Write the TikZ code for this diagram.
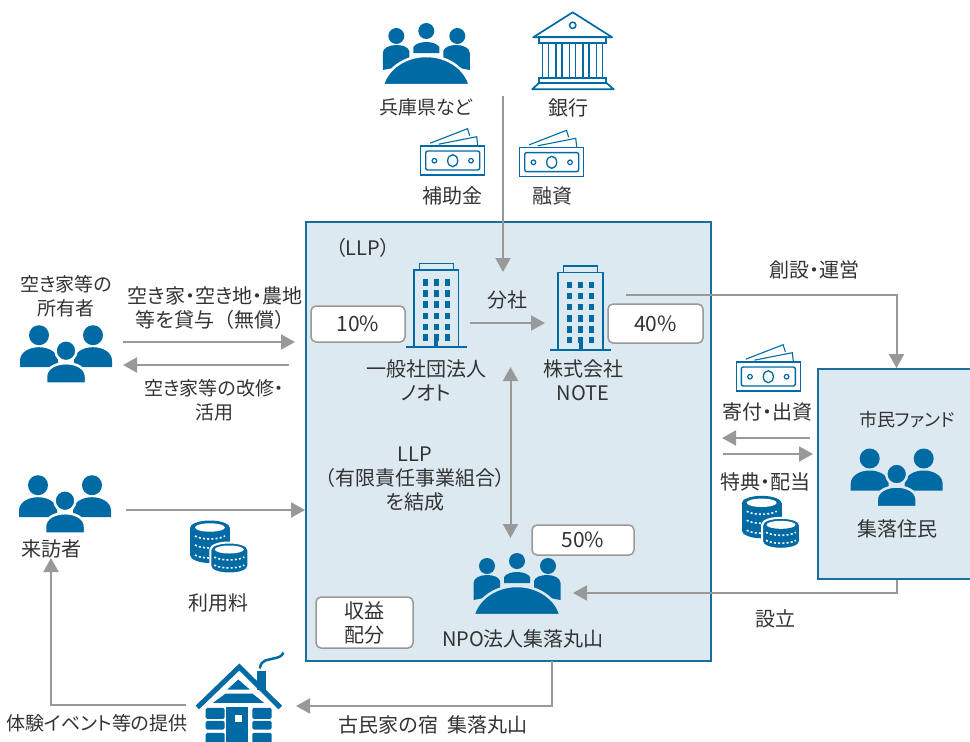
\documentclass[tikz,border=0pt]{standalone}
\usepackage{fontspec}
\setmainfont[RawFeature=+palt]{Noto Sans CJK JP}
\newfontfamily\fullwidth{Noto Sans CJK JP}
\usetikzlibrary{arrows.meta,positioning}

\definecolor{iconBlue}{HTML}{006AA5}
\definecolor{lineBlue}{HTML}{1A6E9E}
\definecolor{boxFill}{HTML}{DCE9F1}
\definecolor{flowGray}{HTML}{999999}
\definecolor{textDark}{HTML}{333333}

\newcommand{\coinDots}[2]{\draw[white,line width=1.6pt,dash pattern=on 2pt off 2.2pt] (#1-15,#2-3) .. controls (#1-8,#2+1) and (#1+8,#2+1) .. (#1+15,#2-3);}

\tikzset{
	pics/peopleIcon/.style={code={
		\fill[iconBlue] (-27,-15.5) circle [radius=10];
		\fill[iconBlue] (27,-15.5) circle [radius=10];
		\fill[iconBlue] (-46,16.5) -- (-46,10) .. controls (-46,1) and (-36,-3.5) .. (-27,-3.5) .. controls (-18,-3.5) and (-8,1) .. (-8,10) -- (-8,16.5) -- cycle;
		\fill[iconBlue] (46,16.5) -- (46,10) .. controls (46,1) and (36,-3.5) .. (27,-3.5) .. controls (18,-3.5) and (8,1) .. (8,10) -- (8,16.5) -- cycle;
		\draw[#1,line width=2.5pt,fill=iconBlue] (0,0) circle [radius=10.5];
		\draw[#1,line width=2.5pt,fill=iconBlue] (-20,33) -- (-20,26) .. controls (-20,17) and (-10,12.5) .. (0,12.5) .. controls (10,12.5) and (20,17) .. (20,26) -- (20,33) -- cycle;
	}},
	pics/tableIcon/.style={code={
		\fill[iconBlue] (-30,-49) circle [radius=8];
		\fill[iconBlue] (0,-54) circle [radius=8];
		\fill[iconBlue] (31,-49) circle [radius=8];
		\fill[iconBlue] (-43.5,-15) -- (-43.5,-32) .. controls (-43.5,-37) and (-37,-40) .. (-30,-40) .. controls (-24,-40) and (-18,-38) .. (-17,-34) -- (-17,-20) -- cycle;
		\fill[iconBlue] (43.5,-15) -- (43.5,-32) .. controls (43.5,-37) and (37,-40) .. (30,-40) .. controls (24,-40) and (18,-38) .. (17,-34) -- (17,-20) -- cycle;
		\fill[iconBlue] (-13,-32) -- (-13,-38) .. controls (-11,-41) and (-6,-43) .. (0,-43) .. controls (6,-43) and (11,-41) .. (13,-38) -- (13,-32) -- cycle;
		\draw[#1,line width=2.5pt,fill=iconBlue] (-43.5,0) .. controls (-39,-16) and (-22,-29) .. (0,-29) .. controls (22,-29) and (39,-16) .. (43.5,0) -- cycle;
	}},
	pics/bankIcon/.style={code={
		\draw[iconBlue,line width=1.7pt,line join=round] (0,-25) -- (-39.5,0) -- (39.5,0) -- cycle;
		\draw[iconBlue,line width=1.5pt] (0,-12) circle [radius=3.2];
		\draw[iconBlue,line width=1.7pt] (-33.5,0) rectangle (33.5,5.4);
		\foreach \colX in {-27,-13.5,0,13.5,27}
			\draw[iconBlue,line width=1.5pt] (\colX-3,5.4) rectangle (\colX+3,41);
		\draw[iconBlue,line width=1.7pt] (-33.5,41) rectangle (33.5,45.4);
		\draw[iconBlue,line width=1.7pt,line join=round] (-33.5,45.4) -- (-40.5,52) -- (41,52) -- (33.5,45.4);
	}},
	pics/moneyIcon/.style={code={
		\draw[iconBlue,line width=1.1pt] (-22.5,-17.5) -- (14.8,-32) -- (17,-25);
		\draw[iconBlue,line width=1.1pt] (-14,-16.5) -- (24,-24) -- (25,-15.5);
		\draw[iconBlue,line width=1.4pt,fill=white] (-32,-14.7) rectangle (32,14.3);
		\draw[iconBlue,line width=1.4pt,rounded corners=2pt] (-27,-9.7) rectangle (27,9.3);
		\draw[iconBlue,line width=1.3pt] (0,0) ellipse [x radius=5,y radius=6];
		\draw[iconBlue,line width=1.2pt] (-18.3,0) circle [radius=2.3];
		\draw[iconBlue,line width=1.2pt] (18.3,0) circle [radius=2.3];
	}},
	pics/coinsIcon/.style={code={
		\fill[iconBlue] (0,27) ellipse [x radius=20,y radius=8];
		\fill[iconBlue] (-20,0) rectangle (20,27);
		\fill[iconBlue] (0,0) ellipse [x radius=20,y radius=7.5];
		\fill[white] (0,-0.5) ellipse [x radius=15,y radius=4.2];
		\coinDots{0}{11}
		\coinDots{0}{20}
		\coinDots{0}{30}
		\draw[white,line width=2pt,fill=iconBlue] (0.3,22) -- (0.3,38) .. controls (0.3,48) and (38.3,48) .. (38.3,38) -- (38.3,22) .. controls (38.3,12) and (0.3,12) .. (0.3,22) -- cycle;
		\fill[white] (19.3,21.5) ellipse [x radius=14.5,y radius=4];
		\coinDots{19.3}{32}
		\coinDots{19.3}{40}
	}},
	pics/towerIcon/.style={code={
		\draw[iconBlue,line width=1.5pt] (-17,-84) rectangle (17,-77.3);
		\draw[iconBlue,line width=1.5pt] (-22.3,-77.3) rectangle (22.3,0);
		\draw[iconBlue,line width=1.7pt] (-30.3,0) -- (30.3,0);
		\foreach \rowY in {-65,-54,-43,-31.6,-20.6,-10}
			\foreach \colX in {-11,0,11}
				\fill[iconBlue] (\colX-2.5,\rowY-3.2) rectangle (\colX+2.5,\rowY+3.2);
		\fill[iconBlue] (-2,-12) rectangle (2,0);
	}},
	pics/houseIcon/.style={code={
		\draw[iconBlue,line width=5pt] (-41,43) -- (1,2.5) -- (42,43);
		\fill[iconBlue] (19,6) rectangle (27.5,25);
		\draw[iconBlue,line width=2.5pt] (21.5,4) .. controls (23,-6) and (30,-4) .. (35,-6) .. controls (40,-7) and (44,-8) .. (45,-12);
		\fill[iconBlue] (0,15) -- (-11,25) -- (11.4,25) -- cycle;
		\fill[iconBlue] (-12.6,29) -- (14,29) -- (25.7,38.3) -- (-25.3,38.3) -- cycle;
		\fill[iconBlue,rounded corners=1.5pt] (-32.6,43.3) rectangle (-13.6,54.3);
		\fill[iconBlue,rounded corners=1.5pt] (-32.6,56.3) rectangle (-13.6,65);
		\fill[iconBlue,rounded corners=1.5pt] (-32.6,68.3) rectangle (-13.6,80);
		\fill[iconBlue,rounded corners=1.5pt] (14,43.3) rectangle (33.4,54.3);
		\fill[iconBlue,rounded corners=1.5pt] (14,56.3) rectangle (33.4,65);
		\fill[iconBlue,rounded corners=1.5pt] (14,68.3) rectangle (33.4,80);
		\fill[iconBlue] (-12,42.6) rectangle (10,80);
		\fill[white] (-3.3,50) rectangle (4,57.3);
	}}
}

\begin{document}
\begin{tikzpicture}[x=1pt,y=-1pt,node distance=0pt]
	\tikzstyle{caption} = [inner sep=0pt, text=textDark, align=center, font=\fontsize{20}{24}\selectfont]
	\tikzstyle{narrowcap} = [caption, font=\fontsize{19}{24}\selectfont]
	\tikzstyle{percent} = [draw=flowGray, line width=1.5pt, fill=white, rounded corners=5pt, inner sep=0pt, text=textDark, align=center, font=\fontsize{21}{24}\selectfont]
	\tikzstyle{panel} = [draw=lineBlue, line width=1.8pt, fill=boxFill, inner sep=0pt]
	\tikzstyle{flow} = [draw=flowGray, line width=2pt, -{Triangle[length=14pt,width=15pt]}]
	\tikzstyle{twoway} = [draw=flowGray, line width=2pt, {Triangle[length=14pt,width=15pt]}-{Triangle[length=14pt,width=15pt]}]

	\useasboundingbox (0,0) rectangle (970,742);

	\node (llpBox) [panel, minimum width=405pt, minimum height=439pt] at (508.5,441.5) {};
	\node (fundBox) [panel, minimum width=157pt, minimum height=210pt] at (896.5,474) {};

	% icons
	\pic (prefIcon) at (426.3,85) {tableIcon=white};
	\pic (bankIcon) at (572.7,37.3) {bankIcon};
	\pic (subsidyIcon) at (452.7,160.7) {moneyIcon};
	\pic (loanIcon) at (551.7,162.3) {moneyIcon};
	\pic (ownerIcon) at (66,350.7) {peopleIcon=white};
	\pic (visitorIcon) at (65,500.7) {peopleIcon=white};
	\pic (feeCoins) at (210,528) {coinsIcon};
	\pic (lotoIcon) at (436.3,347.3) {towerIcon};
	\pic (noteIcon) at (580.5,350) {towerIcon};
	\pic (npoIcon) at (517,615) {tableIcon=boxFill};
	\pic (donationIcon) at (768.3,376.7) {moneyIcon};
	\pic (dividendCoins) at (761.7,503.3) {coinsIcon};
	\pic (residentIcon) at (896.7,474) {peopleIcon=boxFill};
	\pic (innIcon) at (238.3,664.5) {houseIcon};

	% labels
	\node (prefLabel) [narrowcap] at (426,107) {兵庫県など};
	\node (bankLabel) [caption] at (568,108) {銀行};
	\node (subsidyLabel) [caption] at (452,196) {補助金};
	\node (loanLabel) [caption] at (552,196) {融資};
	\node (llpLabel) [caption] at (363,248) {（LLP）};
	\node (spinLabel) [caption] at (507,300) {分社};
	\node (lotoLabel) [caption] at (426,380) {一般社団法人\\ノオト};
	\node (noteLabel) [caption] at (583,380) {株式会社\\NOTE};
	\node (formLabel) [caption] at (415,479) {LLP\\（有限責任事業組合）\\を結成};
	\node (npoLabel) [caption] at (523,639) {NPO法人集落丸山};
	\node (ownerLabel) [narrowcap] at (66,296) {空き家等の\\所有者};
	\node (lendLabel) [caption] at (215,308) {空き家・空き地・農地\\等を貸与{\fullwidth （無償）}};
	\node (repairLabel) [narrowcap] at (214,400) {空き家等の改修・\\活用};
	\node (visitorLabel) [caption] at (51,549) {来訪者};
	\node (feeLabel) [caption] at (218,603) {利用料};
	\node (eventLabel) [narrowcap] at (97,723) {体験イベント等の提供};
	\node (innLabel) [caption] at (433,725) {古民家の宿\ \ 集落丸山};
	\node (foundLabel) [caption] at (814,270) {創設・運営};
	\node (donationLabel) [caption] at (767,412) {寄付・出資};
	\node (dividendLabel) [caption] at (765,482) {特典・配当};
	\node (fundLabel) [caption, font=\fontsize{18}{24}\selectfont] at (907,420) {市民ファンド};
	\node (residentLabel) [caption] at (897,529) {集落住民};
	\node (setupLabel) [caption] at (775,619) {設立};

	% percent boxes
	\node (lotoShare) [percent, minimum width=94pt, minimum height=36pt] at (358,324) {10\%};
	\node (noteShare) [percent, minimum width=95pt, minimum height=39pt] at (655.5,323.5) {40\%};
	\node (npoShare) [percent, minimum width=102pt, minimum height=30pt] at (583,540) {50\%};
	\node (shareBox) [percent, font=\fontsize{20}{24}\selectfont, minimum width=97pt, minimum height=51pt] at (364.5,622.5) {収益\\配分};

	% free ends of connectors
	\coordinate (loanStart) at (503,96);
	\coordinate (loanEnd) at (503,272);
	\coordinate (lotoOut) at (470,323);
	\coordinate (noteIn) at (545,323);
	\coordinate (noteUp) at (510.5,367);
	\coordinate (npoUp) at (510.5,538);
	\coordinate (noteOut) at (626,295);
	\coordinate (ownerOut) at (123,342);
	\coordinate (llpWestIn) at (295,342);
	\coordinate (llpWestOut) at (289,365);
	\coordinate (ownerIn) at (123,365);
	\coordinate (visitorOut) at (126,510);
	\coordinate (npoIn) at (573,593);
	\coordinate (innStart) at (552,661);
	\coordinate (innIn) at (296,706);
	\coordinate (innOut) at (186,705);
	\coordinate (visitorIn) at (51,558);
	\coordinate (fundOutA) at (810,438);
	\coordinate (donationEnd) at (722,438);
	\coordinate (dividendStart) at (723,454);
	\coordinate (fundInB) at (813,454);

	% connectors
	\draw [flow] (loanStart) -- (loanEnd);
	\draw [flow] (lotoOut) -- (noteIn);
	\draw [twoway] (noteUp) -- (npoUp);
	\draw [flow] (noteOut) -| (fundBox.north);
	\draw [flow] (ownerOut) -- (llpWestIn);
	\draw [flow] (llpWestOut) -- (ownerIn);
	\draw [flow] (visitorOut) -- (visitorOut -| llpBox.west);
	\draw [flow] (fundBox.south) |- (npoIn);
	\draw [flow] (innStart) |- (innIn);
	\draw [flow] (innOut) -| (visitorIn);
	\draw [flow] (fundOutA) -- (donationEnd);
	\draw [flow] (dividendStart) -- (fundInB);
\end{tikzpicture}
\end{document}
